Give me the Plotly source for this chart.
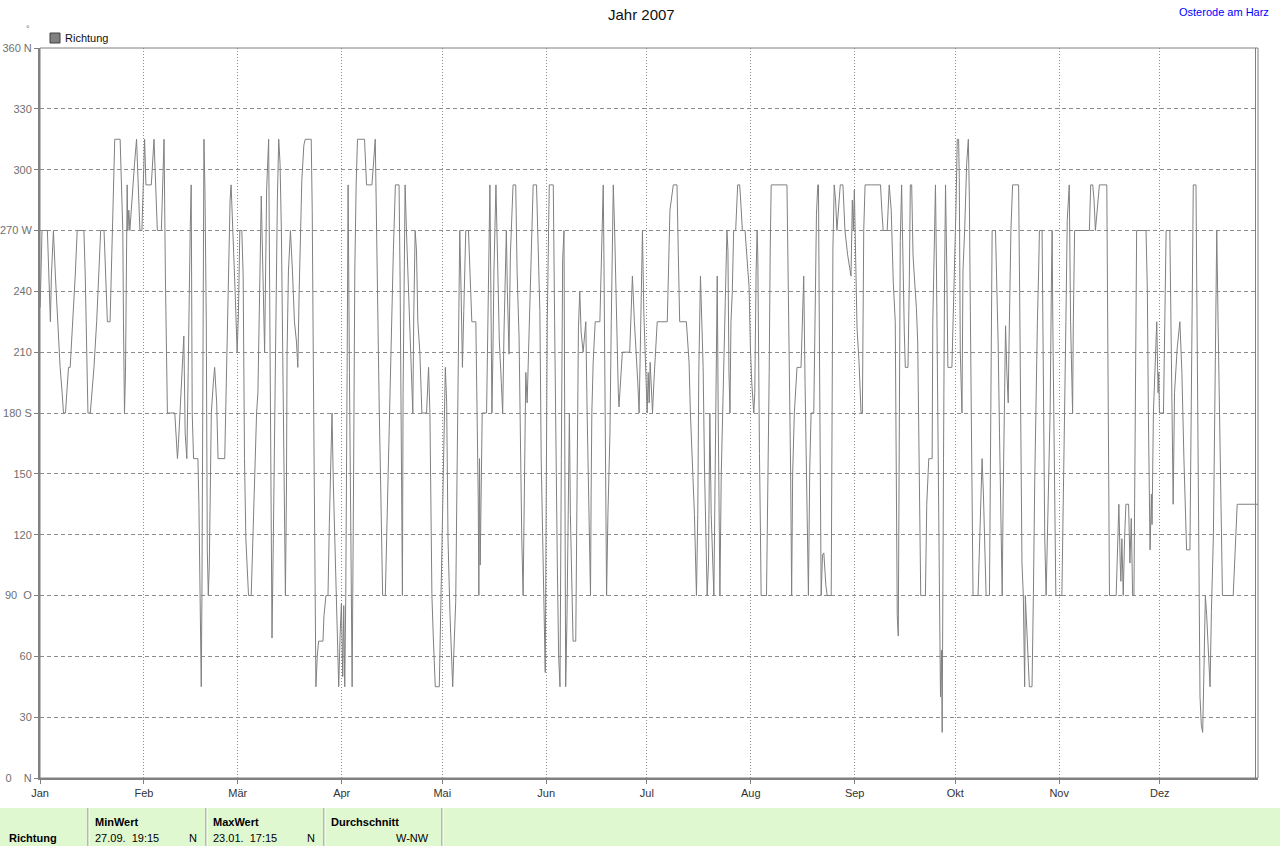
"""Windrichtung Osterode am Harz, Jahr 2007 - Nachbau als Plotly-Chart."""

import pandas as pd
import plotly.graph_objects as go

JAN = [(0.05, 232), (0.3, 250), (0.6, 270), (2.2, 270), (2.7, 247.5), (3.1, 225), (3.4, 247.5),
       (4.0, 270), (4.6, 247.5), (5.2, 225), (6.0, 202.5), (6.6, 190), (7.0, 180), (7.6, 180),
       (8.2, 195), (8.5, 202.5), (9.0, 202.5), (9.8, 225), (10.5, 247.5), (11.1, 270), (13.1, 270),
       (13.5, 247.5), (14.1, 202.5), (14.3, 180), (15.0, 180), (16.1, 202.5), (16.9, 225),
       (17.6, 247.5), (18.1, 270), (19.1, 270), (19.7, 247.5), (20.1, 225), (20.9, 225),
       (21.3, 247.5), (21.7, 270), (22.0, 292.5), (22.3, 315), (23.9, 315), (24.3, 292.5),
       (24.7, 270), (24.9, 225), (25.0, 195), (25.2, 180), (25.5, 200), (25.8, 247.5),
       (26.0, 292.5), (26.2, 270), (26.5, 280), (26.8, 270), (27.2, 280), (27.6, 292.5),
       (28.2, 303), (28.8, 315), (29.2, 292.5), (29.8, 270), (30.4, 270), (30.8, 300)]
FEB = [(31.2, 315), (31.6, 292.5), (33.2, 292.5), (34.0, 315), (34.6, 292.5), (35.0, 270),
       (36.2, 270), (36.6, 292.5), (37.0, 315), (37.4, 247.5), (37.8, 202.5), (38.0, 180),
       (40.2, 180), (41.0, 157.5), (41.3, 165), (42.1, 190), (42.9, 218), (43.3, 170),
       (43.8, 157.5), (44.2, 200), (44.5, 250), (44.8, 270), (45.1, 292.5), (45.4, 180),
       (45.8, 157.5), (47.1, 157.5), (47.4, 135), (47.7, 105), (47.9, 67.5), (48.1, 45),
       (48.3, 90), (48.6, 180), (48.9, 315), (49.2, 290), (49.6, 225), (49.9, 112.5), (50.2, 90),
       (50.5, 105), (51.1, 180), (51.7, 195), (52.1, 202.5), (52.7, 185), (53.1, 157.5),
       (55.1, 157.5), (55.4, 180), (55.8, 225), (56.2, 256), (56.7, 285), (57.0, 292.5),
       (57.6, 270), (58.2, 240), (58.8, 210)]
MAR = [(59.2, 230), (59.6, 270), (60.2, 270), (60.6, 247.5), (61.0, 157.5), (61.4, 118),
       (61.8, 105), (62.2, 90), (63.0, 90), (63.5, 118), (64.0, 157.5), (64.6, 180), (65.0, 190),
       (65.4, 228), (66.0, 287), (67.0, 210), (67.6, 290), (68.2, 315), (68.6, 190), (69.0, 108),
       (69.2, 69), (69.6, 118), (70.0, 170), (70.4, 240), (70.8, 285), (71.2, 315), (71.6, 303),
       (72.0, 270), (72.4, 216), (72.8, 165), (73.2, 90), (73.5, 140), (73.7, 210), (74.1, 250),
       (74.7, 270), (75.3, 250), (75.9, 225), (76.5, 215), (76.9, 202.5), (77.3, 240),
       (77.7, 270), (78.1, 295), (78.7, 312), (79.1, 315), (80.9, 315), (81.2, 280), (81.5, 210),
       (81.8, 145), (82.1, 78), (82.3, 45), (82.7, 60), (83.1, 67.5), (84.4, 67.5), (84.7, 80),
       (85.3, 90), (85.9, 90), (86.3, 125), (86.7, 160), (87.1, 180), (87.5, 145), (88.1, 110),
       (88.7, 70), (89.1, 45), (89.5, 70), (89.9, 86)]
APR = [(90.3, 50), (90.6, 85), (90.9, 45), (91.2, 90), (91.6, 200), (91.9, 292.5), (92.3, 200),
       (92.7, 110), (93.1, 45), (93.5, 140), (93.9, 250), (94.3, 292.5), (94.7, 315),
       (96.8, 315), (97.4, 292.5), (99.0, 292.5), (99.4, 303), (100.0, 315), (100.4, 270),
       (100.8, 216), (101.2, 181), (101.6, 146), (102.0, 108), (102.2, 90), (103.0, 90),
       (103.4, 118), (103.8, 160), (104.2, 180), (104.6, 210), (105.0, 240), (105.4, 260),
       (106.0, 292.5), (107.1, 292.5), (107.4, 247.5), (107.7, 190), (107.9, 125), (108.1, 90),
       (108.3, 190), (108.6, 260), (108.9, 292.5), (109.3, 270), (109.7, 250), (110.3, 220),
       (110.9, 190), (111.2, 180), (111.5, 230), (111.9, 270), (112.3, 260), (112.7, 225),
       (113.3, 210), (113.9, 180), (115.3, 180), (115.9, 202.5), (116.3, 180), (116.5, 150),
       (116.7, 118), (116.9, 90), (117.3, 70), (117.9, 45), (119.1, 45), (119.5, 82),
       (119.9, 106)]
MAI = [(120.3, 153), (120.9, 202.5), (121.3, 185), (121.7, 118), (122.3, 80), (123.1, 45),
       (123.4, 60), (124.0, 87), (124.4, 150), (124.8, 232), (125.2, 270), (125.6, 240),
       (126.0, 202.5), (126.4, 230), (127.0, 270), (127.8, 270), (128.2, 247.5), (128.8, 225),
       (130.0, 225), (130.4, 180), (130.7, 140), (130.9, 90), (131.1, 157.5), (131.3, 105),
       (131.5, 135), (131.7, 165), (131.9, 180), (133.2, 180), (133.4, 210), (133.7, 240),
       (134.0, 270), (134.2, 292.5), (134.5, 230), (134.8, 180), (135.1, 210), (135.4, 250),
       (136.0, 292.5), (136.4, 260), (137.0, 216), (137.6, 195), (138.0, 180), (138.4, 220),
       (138.8, 250), (139.1, 270), (139.4, 240), (139.7, 225), (139.9, 209), (140.3, 258),
       (140.7, 280), (141.1, 292.5), (141.9, 292.5), (142.3, 250), (142.9, 217), (143.3, 160),
       (143.7, 118), (144.1, 90), (144.5, 150), (144.9, 200), (145.3, 185), (145.7, 210),
       (146.1, 235), (146.7, 270), (147.1, 292.5), (148.1, 292.5), (148.5, 268), (149.1, 230),
       (149.5, 157), (149.9, 115), (150.3, 75), (150.7, 52)]
JUN = [(151.0, 140), (151.3, 225), (151.9, 292.5), (153.1, 292.5), (153.5, 225), (153.9, 157),
       (154.3, 106), (154.7, 60), (155.1, 45), (155.5, 157), (155.9, 256), (156.3, 270),
       (156.5, 180), (156.8, 45), (157.2, 80), (157.6, 140), (157.9, 180), (158.2, 130),
       (158.6, 90), (159.0, 67.5), (159.8, 67.5), (160.2, 135), (160.6, 222), (161.0, 240),
       (161.4, 220), (162.0, 210), (162.4, 217), (162.8, 225), (163.2, 180), (163.6, 140),
       (163.9, 105), (164.2, 90), (164.4, 143), (164.6, 180), (165.0, 205), (165.6, 225),
       (167.0, 225), (167.4, 258), (167.7, 270), (168.0, 292.5), (168.2, 258), (168.4, 200),
       (168.8, 125), (169.0, 90), (169.4, 130), (170.0, 170), (170.4, 225), (170.7, 270),
       (171.0, 292.5), (171.4, 270), (171.8, 235), (172.2, 200), (172.5, 190), (172.7, 183),
       (173.1, 195), (173.7, 210), (175.9, 210), (176.3, 235), (176.7, 247.5), (177.3, 225),
       (177.9, 210), (178.3, 195), (178.7, 180), (179.1, 220), (179.7, 270), (180.1, 230),
       (180.5, 210), (180.9, 185)]
JUL = [(181.1, 180), (181.4, 200), (181.7, 185), (182.0, 205), (182.3, 195), (182.7, 180),
       (183.1, 195), (183.5, 210), (184.1, 225), (187.1, 225), (187.5, 255), (187.9, 280),
       (188.9, 292.5), (190.0, 292.5), (190.4, 258), (190.8, 225), (192.8, 225), (193.2, 215),
       (193.6, 205), (194.0, 180), (194.6, 157), (195.2, 130), (195.8, 90), (196.2, 130),
       (196.5, 200), (197.0, 247.5), (197.4, 225), (197.8, 202.5), (198.2, 153), (199.0, 90),
       (199.4, 106), (199.8, 180), (200.2, 130), (201.0, 90), (201.4, 153), (201.8, 220),
       (202.0, 247.5), (202.3, 178), (202.6, 106), (202.8, 90), (203.2, 150), (203.8, 200),
       (204.4, 235), (204.9, 270), (205.2, 260), (205.5, 200), (205.8, 180), (206.1, 225),
       (206.5, 240), (206.9, 270), (207.5, 270), (208.1, 292.5), (208.7, 292.5), (209.1, 282),
       (209.5, 270), (210.3, 270), (210.9, 255), (211.5, 242), (211.9, 212)]
AUG = [(212.3, 195), (212.9, 180), (213.2, 190), (213.6, 250), (213.9, 270), (214.1, 258),
       (214.3, 205), (214.6, 160), (214.9, 120), (215.1, 90), (216.7, 90), (217.1, 135),
       (217.5, 200), (217.8, 260), (218.1, 292.5), (222.8, 292.5), (223.2, 247.5), (223.6, 200),
       (223.9, 150), (224.2, 90), (224.5, 150), (225.0, 180), (225.4, 195), (225.8, 202.5),
       (227.0, 202.5), (227.4, 230), (227.8, 247.5), (228.2, 195), (228.6, 153), (229.0, 110),
       (229.2, 90), (229.6, 153), (230.0, 180), (230.8, 180), (231.2, 225), (231.6, 278),
       (232.0, 292.5), (232.2, 292.5), (232.5, 210), (232.8, 130), (233.0, 90), (233.4, 110),
       (233.8, 111), (234.4, 95), (234.8, 90), (236.0, 90), (236.2, 190), (236.5, 260),
       (236.9, 292.5), (237.3, 285), (237.7, 270), (238.1, 280), (238.7, 292.5), (239.5, 292.5),
       (240.1, 270), (240.9, 258), (241.5, 250), (241.9, 247.5), (242.3, 285), (242.6, 270),
       (242.9, 290)]
SEP = [(243.3, 255), (243.7, 222), (244.3, 205), (244.9, 180), (245.3, 180), (245.7, 270),
       (246.1, 292.5), (250.7, 292.5), (251.1, 280), (251.5, 270), (252.7, 270), (253.3, 292.5),
       (253.9, 280), (254.5, 245), (255.1, 225), (255.4, 150), (255.7, 80), (256.0, 70),
       (256.3, 200), (256.6, 265), (257.0, 292.5), (257.4, 250), (257.8, 220), (258.1, 202.5),
       (258.9, 202.5), (259.3, 246), (259.6, 292.5), (260.0, 292.5), (260.4, 258), (260.8, 247),
       (261.4, 232), (261.8, 215), (262.3, 146), (262.7, 90), (264.1, 90), (264.5, 135),
       (265.1, 157.5), (266.1, 157.5), (266.3, 225), (266.7, 270), (267.1, 292.5), (267.4, 250),
       (267.7, 180), (268.1, 120), (268.3, 90), (268.6, 40), (268.9, 63), (269.1, 22.5),
       (269.3, 67), (269.5, 157.5), (269.8, 245), (270.1, 292.5), (270.5, 247.5), (270.8, 202.5),
       (272.0, 202.5), (272.4, 225), (272.8, 258)]
OKT = [(273.2, 280), (273.6, 315), (274.0, 315), (274.2, 296), (274.5, 210), (275.0, 180),
       (275.3, 250), (275.8, 270), (276.4, 303), (276.9, 315), (277.2, 287), (277.5, 230),
       (277.8, 175), (278.1, 115), (278.3, 90), (279.8, 90), (280.2, 115), (280.6, 140),
       (281.0, 157.5), (281.4, 140), (281.8, 106), (282.2, 90), (283.2, 90), (283.5, 180),
       (283.8, 220), (284.0, 270), (285.0, 270), (285.4, 247.5), (285.8, 214), (286.2, 170),
       (286.6, 130), (287.0, 90), (287.3, 140), (287.6, 180), (288.0, 223), (288.4, 200),
       (288.8, 185), (289.0, 210), (289.3, 247.5), (289.6, 270), (290.1, 292.5), (291.9, 292.5),
       (292.2, 240), (292.5, 157), (292.9, 106), (293.3, 90), (293.7, 45), (293.9, 90),
       (294.3, 75), (294.7, 60), (295.1, 45), (295.9, 45), (296.1, 61), (296.3, 90),
       (296.7, 146), (297.1, 200), (297.5, 225), (297.9, 252), (298.1, 270), (298.9, 270),
       (299.3, 200), (299.7, 118), (300.1, 90), (300.5, 118), (300.9, 146), (301.3, 181),
       (301.7, 247.5), (301.9, 270), (302.1, 224), (302.5, 153), (302.9, 106), (303.0, 90)]
NOV = [(304.8, 90), (305.2, 130), (305.6, 180), (306.0, 225), (306.4, 275), (306.8, 292.5),
       (307.0, 292.5), (307.4, 225), (307.8, 190), (308.0, 180), (308.2, 223), (308.6, 270),
       (313.0, 270), (313.4, 292.5), (314.0, 292.5), (314.4, 285), (314.8, 270), (315.2, 277),
       (315.6, 285), (316.0, 292.5), (318.2, 292.5), (318.6, 200), (318.8, 130), (319.0, 90),
       (321.0, 90), (321.4, 118), (321.8, 135), (322.2, 106), (322.4, 97), (322.7, 118),
       (323.1, 90), (323.5, 118), (323.9, 135), (324.7, 135), (325.1, 106), (325.5, 128),
       (325.9, 90), (326.3, 90), (326.7, 180), (326.9, 247.5), (327.1, 270), (329.9, 270),
       (330.3, 240), (330.6, 180), (330.9, 118), (331.1, 112.5), (331.5, 140), (331.7, 125),
       (332.1, 180), (332.7, 210), (333.1, 225), (333.5, 190), (333.7, 200), (333.9, 180)]
DEZ = [(335.1, 180), (335.5, 225), (335.9, 270), (337.0, 270), (337.4, 202.5), (337.8, 146),
       (338.0, 135), (338.4, 190), (339.2, 212), (340.0, 225), (340.6, 200), (341.2, 157.5),
       (342.0, 112.5), (343.0, 112.5), (343.4, 180), (343.7, 250), (344.0, 292.5),
       (344.8, 292.5), (345.2, 200), (345.6, 110), (346.0, 40), (346.4, 26), (346.8, 22.5),
       (347.2, 55), (347.6, 90), (348.0, 80), (348.6, 55), (349.0, 45), (349.4, 82),
       (350.0, 120), (350.4, 180), (350.8, 243), (351.0, 270), (351.4, 224), (351.8, 180),
       (352.2, 132), (352.7, 90), (355.9, 90), (356.3, 105), (356.7, 125), (357.1, 135),
       (363.3, 135)]

MONATE = ["Jan", "Feb", "Mär", "Apr", "Mai", "Jun", "Jul", "Aug", "Sep", "Okt", "Nov", "Dez"]
Y_TICKS = list(range(0, 361, 30))
Y_TEXT = ["0\u00a0\u00a0\u00a0\u00a0N", "30", "60", "90\u00a0\u00a0O", "120", "150", "180 S",
          "210", "240", "270 W", "300", "330", "360 N"]

START = pd.Timestamp("2007-01-01")
X_END_TAG = 363.3

COLOR_LINE = "#808080"
COLOR_GRID = "#8c8c8c"
COLOR_TABLE = "#E0F8D0"
FONT = "Liberation Sans, Arial, sans-serif"

# Pixelmasse der Zeichenflaeche im 1280x846-Bild
PX_L, PX_R, PX_T, PX_B = 40, 1258, 48, 778


def fx(px: float) -> float:
    return (px - PX_L) / (PX_R - PX_L)


def fy(py: float) -> float:
    return (PX_B - py) / (PX_B - PX_T)


punkte = JAN + FEB + MAR + APR + MAI + JUN + JUL + AUG + SEP + OKT + NOV + DEZ
tage = [p[0] for p in punkte]
richtung = [p[1] for p in punkte]
zeit = START + pd.to_timedelta(tage, unit="D")

fig = go.Figure()
fig.add_trace(
    go.Scatter(
        x=zeit,
        y=richtung,
        mode="lines",
        name="Richtung",
        line={"color": COLOR_LINE, "width": 1},
        showlegend=False,
        hoverinfo="skip",
    )
)

monatsanfang = pd.date_range("2007-01-01", periods=12, freq="MS")

fig.update_layout(
    width=1280,
    height=846,
    margin={"l": PX_L, "r": 1280 - PX_R, "t": PX_T, "b": 846 - PX_B, "autoexpand": False},
    paper_bgcolor="white",
    plot_bgcolor="white",
    font={"family": FONT, "size": 11, "color": "#444444"},
    showlegend=False,
    xaxis={
        "type": "date",
        "range": [START, START + pd.Timedelta(days=X_END_TAG)],
        "tickvals": monatsanfang,
        "ticktext": MONATE,
        "ticks": "outside",
        "ticklen": 4,
        "tickcolor": COLOR_LINE,
        "tickfont": {"size": 11, "color": "#333333"},
        "showgrid": True,
        "gridcolor": COLOR_GRID,
        "griddash": "1px,2px",
        "gridwidth": 1,
        "showline": True,
        "linecolor": COLOR_LINE,
        "linewidth": 2,
        "zeroline": False,
        "fixedrange": True,
    },
    yaxis={
        "range": [0, 360],
        "tickvals": Y_TICKS,
        "ticktext": Y_TEXT,
        "ticks": "outside",
        "ticklen": 4,
        "tickcolor": COLOR_LINE,
        "tickfont": {"size": 11, "color": "#707070"},
        "showgrid": True,
        "gridcolor": COLOR_GRID,
        "griddash": "4px,3px",
        "gridwidth": 1,
        "showline": True,
        "linecolor": COLOR_LINE,
        "linewidth": 2,
        "zeroline": False,
        "fixedrange": True,
    },
)

shapes = [
    # Rahmen der Zeichenflaeche, rechts doppelt
    {"type": "rect", "xref": "paper", "yref": "paper", "x0": 0, "x1": 1, "y0": 0, "y1": 1,
     "line": {"color": COLOR_LINE, "width": 1}},
    {"type": "line", "xref": "paper", "yref": "paper", "x0": fx(1255.5), "x1": fx(1255.5),
     "y0": 0, "y1": 1, "line": {"color": COLOR_LINE, "width": 1}},
    # Legendenkaestchen
    {"type": "rect", "xref": "paper", "yref": "paper", "x0": fx(50), "x1": fx(60),
     "y0": fy(43), "y1": fy(33), "fillcolor": "#808080", "line": {"color": "#404040", "width": 1}},
    # Tabelle unten
    {"type": "rect", "xref": "paper", "yref": "paper", "x0": fx(0), "x1": fx(1280),
     "y0": fy(846), "y1": fy(808), "fillcolor": COLOR_TABLE, "line": {"width": 0}, "layer": "below"},
]
for sep in [88, 206, 324, 442]:
    shapes.append(
        {"type": "line", "xref": "paper", "yref": "paper", "x0": fx(sep), "x1": fx(sep),
         "y0": fy(846), "y1": fy(808), "line": {"color": "#808080", "width": 1}}
    )
    shapes.append(
        {"type": "line", "xref": "paper", "yref": "paper", "x0": fx(sep + 1), "x1": fx(sep + 1),
         "y0": fy(846), "y1": fy(808), "line": {"color": "#ffffff", "width": 1}}
    )
fig.update_layout(shapes=shapes)


def text(px, py, s, anchor="left", size=11, color="#000000"):
    fig.add_annotation(
        x=fx(px), y=fy(py), xref="paper", yref="paper", text=s, showarrow=False,
        xanchor=anchor, yanchor="middle", font={"family": FONT, "size": size, "color": color},
    )


text(641, 15, "Jahr 2007", anchor="center", size=15, color="#111111")
text(1271, 12, "Osterode am Harz", anchor="right", size=11, color="#0000FF")
text(28, 29, "°", anchor="center", size=9, color="#707070")
text(63, 38, "Richtung", size=11, color="#111111")

text(7, 838, "<b>Richtung</b>")
text(93, 822, "<b>MinWert</b>")
text(93, 838, "27.09.\u00a0\u00a019:15")
text(199, 838, "N", anchor="right")
text(211, 822, "<b>MaxWert</b>")
text(211, 838, "23.01.\u00a0\u00a017:15")
text(317, 838, "N", anchor="right")
text(329, 822, "<b>Durchschnitt</b>")
text(431, 838, "W-NW", anchor="right")

# Seitenrand des Browsers entfernen, damit die Grafik bei (0, 0) beginnt
fig.write_html(
    "out.html",
    config={"displayModeBar": False},
    post_script="document.body.style.margin='0';document.body.style.overflow='hidden';",
)
